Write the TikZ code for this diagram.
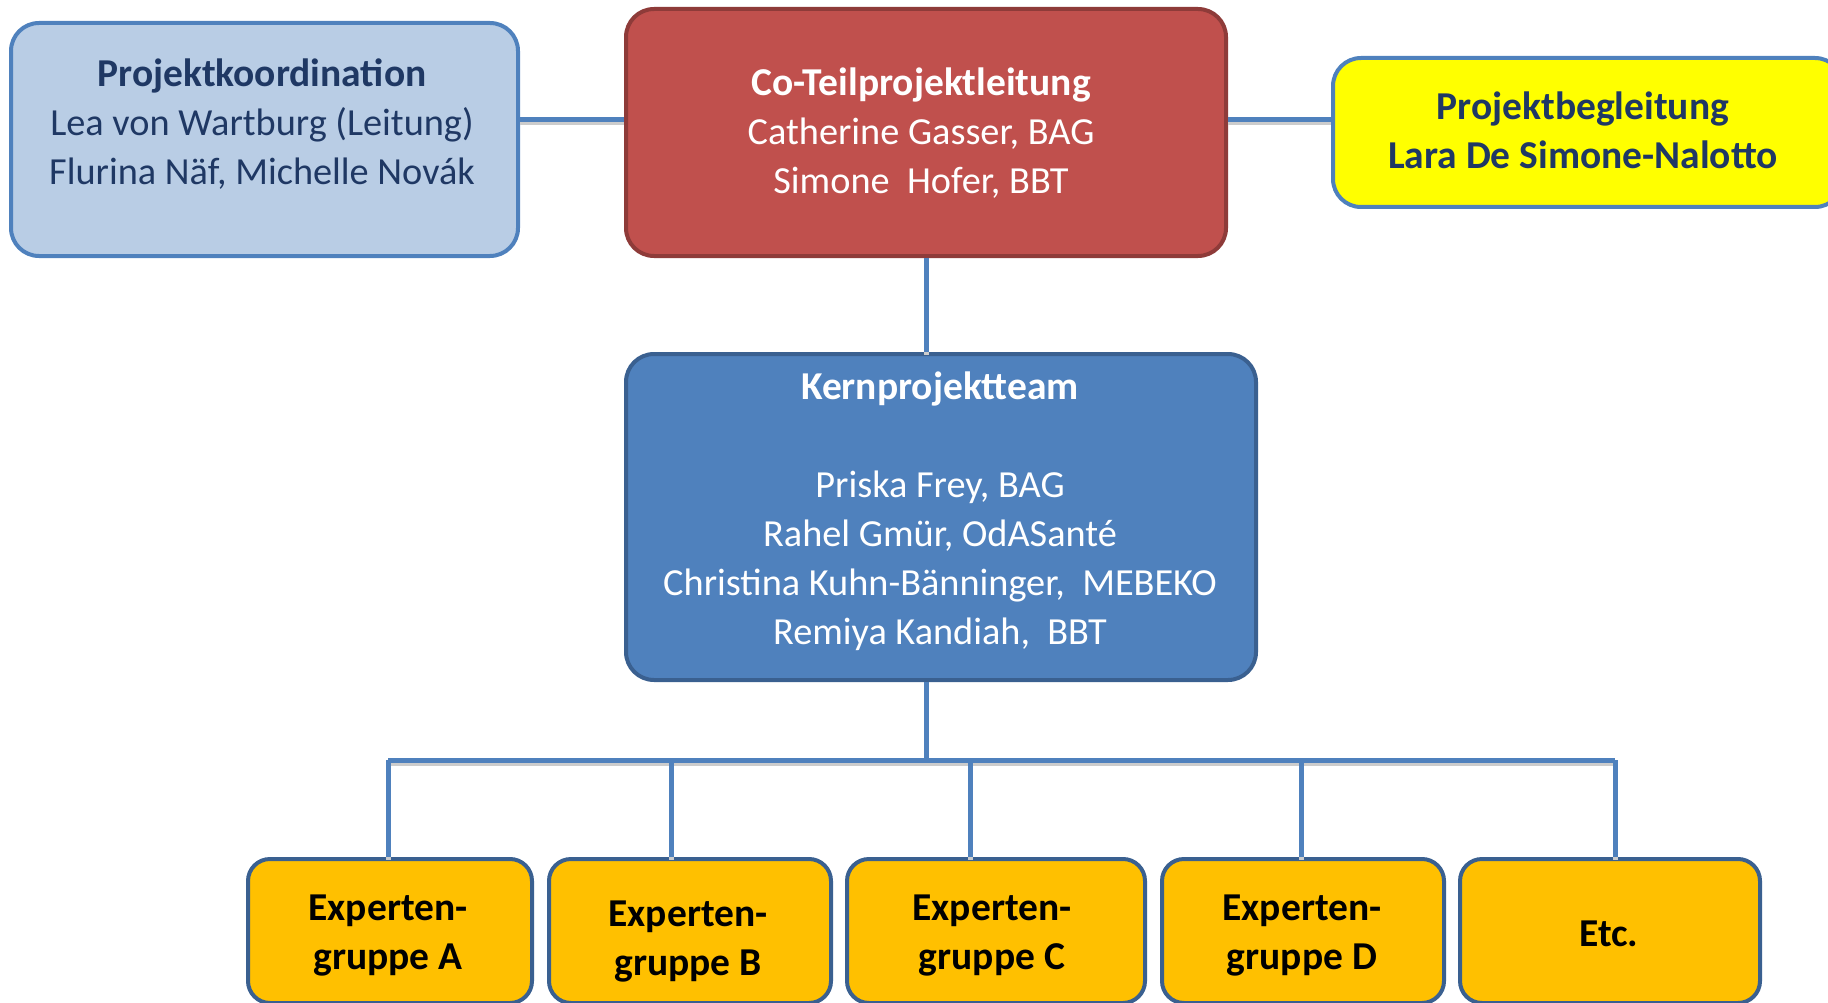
\documentclass[tikz,border=0pt]{standalone}
\usepackage{fontspec}
\setmainfont{Carlito}
\usetikzlibrary{calc}
\definecolor{linkblue}{HTML}{4F81BD}
\definecolor{paleblue}{HTML}{B9CDE5}
\definecolor{redfill}{HTML}{C0504D}
\definecolor{redline}{HTML}{8E3B39}
\definecolor{navy}{HTML}{1F3864}
\definecolor{kernline}{HTML}{3A6090}
\definecolor{amber}{HTML}{FFC000}
\definecolor{brightyellow}{HTML}{FFFF00}
% bold lines are set a little larger than the regular ones
\newcommand{\hd}[1]{{\fontsize{39.5}{49}\selectfont\bfseries #1}}
\begin{document}
\begin{tikzpicture}[x=1pt,y=-1pt,
  box/.style={draw, line width=4pt, rounded corners=28pt, inner sep=0pt, anchor=north west},
  smallbox/.style={box, rounded corners=22pt, draw=kernline, fill=amber},
  txt/.style={align=center, inner sep=0pt, font=\fontsize{38.3}{49}\selectfont},
  grouptxt/.style={txt, font=\fontsize{39.5}{49}\selectfont\bfseries, text=black},
  conn/.style={draw=linkblue, line width=5pt,
    preaction={draw=black!20, line width=5pt, transform canvas={yshift=-3pt}}}]
\useasboundingbox (0,0) rectangle (1828,1003);

% upper row
\node[box, draw=linkblue, fill=paleblue, minimum width=507pt, minimum height=233pt] (pk) at (9,21) {};
\node[txt, text=navy] (pkT) at (262,124) {\hd{Projektkoordination}\\Lea von Wartburg (Leitung)\\Flurina Näf, Michelle Novák};

\node[box, draw=redline, fill=redfill, minimum width=600pt, minimum height=247pt] (ctl) at (624,7) {};
\node[txt, text=white] (ctlT) at (921,133.5) {\hd{Co-Teilprojektleitung}\\Catherine Gasser, BAG\\Simone\ \ Hofer, BBT};

\node[box, draw=linkblue, fill=brightyellow, minimum width=510pt, minimum height=149pt] (pb) at (1331,56) {};
\node[txt, text=navy, font=\fontsize{39.5}{49}\selectfont\bfseries] (pbT) at (1583,130) {Projektbegleitung\\Lara De Simone-Nalotto};

% core team
\node[box, draw=kernline, fill=linkblue, minimum width=630pt, minimum height=326pt] (kern) at (624,352) {};
\node[txt, text=white] (kernT) at (940,511) {\hd{Kernprojektteam}\\[49pt]Priska Frey, BAG\\Rahel Gmür, OdASanté\\Christina Kuhn-Bänninger,\ \ MEBEKO\\Remiya Kandiah,\ \ BBT};

% expert groups
\node[smallbox, minimum width=284pt, minimum height=144pt] (gA) at (246,857) {};
\node[smallbox, minimum width=282pt, minimum height=144pt] (gB) at (547,857) {};
\node[smallbox, minimum width=298pt, minimum height=144pt] (gC) at (845,857) {};
\node[smallbox, minimum width=282pt, minimum height=144pt] (gD) at (1160,857) {};
\node[smallbox, minimum width=300pt, minimum height=144pt] (gE) at (1458,857) {};
\node[grouptxt] (gAT) at (388,936) {Experten-\\gruppe A};
\node[grouptxt] (gBT) at (688,942) {Experten-\\gruppe B};
\node[grouptxt] (gCT) at (992,936) {Experten-\\gruppe C};
\node[grouptxt] (gDT) at (1302,936) {Experten-\\gruppe D};
\node[grouptxt] (gET) at (1609,934) {Etc.};

% connectors
\coordinate (row) at (0,120);
\coordinate (busA) at (388,760);
\coordinate (busB) at (671,760);
\coordinate (busC) at (970,760);
\coordinate (busD) at (1301,760);
\coordinate (busE) at (1615,760);

\draw[conn] (pk.east |- row) -- (ctl.west |- row);
\draw[conn] (ctl.east |- row) -- (pb.west |- row);
\draw[conn] (ctl.south) -- (ctl.south |- kern.north);
\draw[conn] (ctl.south |- kern.south) -- (ctl.south |- busA);
\draw[conn] (busA) -- (busE);
\draw[conn] (busA) -- (busA |- gA.north);
\draw[conn] (busB) -- (busB |- gB.north);
\draw[conn] (busC) -- (busC |- gC.north);
\draw[conn] (busD) -- (busD |- gD.north);
\draw[conn] (busE) -- (busE |- gE.north);
\end{tikzpicture}
\end{document}
